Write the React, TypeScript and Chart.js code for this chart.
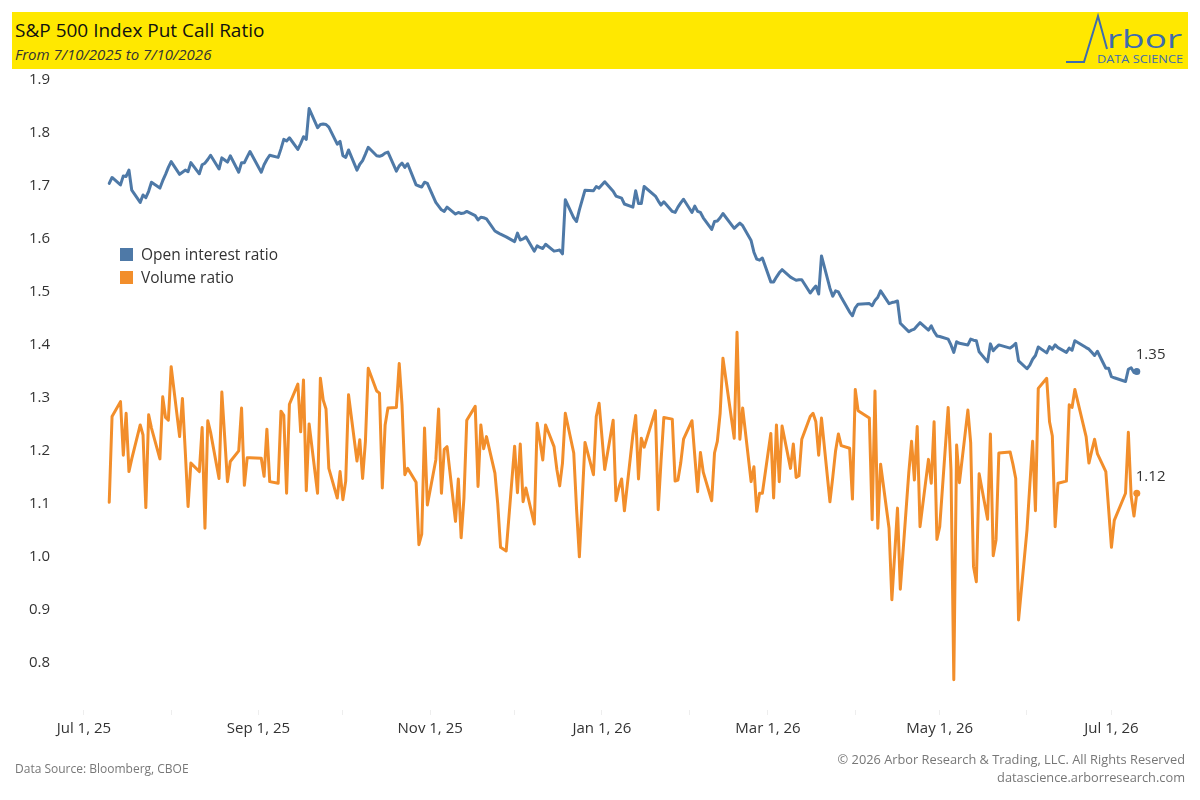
import React, { useEffect, useRef } from "react";
import { Chart, registerables } from "chart.js";

Chart.register(...registerables);

// ---------- data ----------
const AXIS_ORIGIN = "2025-07-01";
const FIRST_DATE = "2025-07-10";
const LAST_DATE = "2026-07-10";
const MARKET_HOLIDAYS = [
  "2025-09-01", "2025-11-27", "2025-12-25", "2026-01-01", "2026-01-19",
  "2026-02-16", "2026-04-03", "2026-05-25", "2026-06-19", "2026-07-03",
];

const OPEN_INTEREST_RATIO = [
  1.705, 1.716,
  1.702, 1.719, 1.718, 1.730, 1.692,
  1.669, 1.683, 1.678, 1.690, 1.707,
  1.696, 1.710, 1.722, 1.735, 1.746,
  1.722, 1.726, 1.730, 1.727, 1.744,
  1.723, 1.740, 1.743, 1.750, 1.758,
  1.732, 1.753, 1.749, 1.745, 1.757,
  1.726, 1.744, 1.744, 1.755, 1.765,
  1.726, 1.740, 1.750, 1.758,
  1.754, 1.770, 1.788, 1.785, 1.791,
  1.769, 1.780, 1.793, 1.788, 1.846,
  1.810, 1.816, 1.817, 1.816, 1.811,
  1.779, 1.784, 1.757, 1.754, 1.768,
  1.730, 1.741, 1.748, 1.760, 1.773,
  1.757, 1.756, 1.758, 1.762, 1.764,
  1.728, 1.738, 1.743, 1.735, 1.742,
  1.702, 1.700, 1.698, 1.707, 1.705,
  1.669, 1.662, 1.655, 1.652, 1.660,
  1.647, 1.650, 1.648, 1.649, 1.652,
  1.644, 1.636, 1.641, 1.640, 1.638,
  1.615, 1.612, 1.609, 1.604,
  1.595, 1.611, 1.598, 1.600, 1.604,
  1.577, 1.587, 1.584, 1.582, 1.590,
  1.577, 1.578, 1.579, 1.572, 1.674,
  1.640, 1.633, 1.655, 1.692,
  1.691, 1.699, 1.696, 1.708,
  1.690, 1.681, 1.679, 1.677, 1.666,
  1.660, 1.691, 1.667, 1.667, 1.699,
  1.681, 1.672, 1.664, 1.670,
  1.652, 1.650, 1.660, 1.668, 1.675,
  1.650, 1.662, 1.652, 1.650, 1.640,
  1.618, 1.633, 1.634, 1.640, 1.648,
  1.620, 1.625, 1.630, 1.625,
  1.597, 1.575, 1.562, 1.560, 1.564,
  1.519, 1.519, 1.528, 1.536, 1.542,
  1.528, 1.525, 1.522, 1.523, 1.523,
  1.498, 1.505, 1.511, 1.496, 1.568,
  1.507, 1.492, 1.502, 1.500, 1.490,
  1.462, 1.455, 1.470, 1.477,
  1.478, 1.474, 1.484, 1.490, 1.502,
  1.478, 1.480, 1.481, 1.483, 1.441,
  1.425, 1.428, 1.430, 1.436, 1.442,
  1.428, 1.436, 1.425, 1.417, 1.416,
  1.411, 1.400, 1.386, 1.406, 1.403,
  1.400, 1.411, 1.409, 1.408, 1.387,
  1.368, 1.402, 1.389, 1.395, 1.400,
  1.394, 1.398, 1.403, 1.370,
  1.355, 1.362, 1.373, 1.380, 1.396,
  1.385, 1.397, 1.392, 1.400, 1.395,
  1.386, 1.394, 1.390, 1.408,
  1.395, 1.392, 1.386, 1.380, 1.388,
  1.356, 1.356, 1.340, 1.338,
  1.331, 1.354, 1.357, 1.348, 1.350,
];

const VOLUME_RATIO = [
  1.103, 1.265,
  1.293, 1.192, 1.271, 1.161, 1.185,
  1.249, 1.230, 1.093, 1.268, 1.243,
  1.185, 1.302, 1.263, 1.258, 1.359,
  1.227, 1.299, 1.200, 1.095, 1.177,
  1.161, 1.244, 1.054, 1.257, 1.235,
  1.148, 1.311, 1.227, 1.142, 1.180,
  1.200, 1.281, 1.135, 1.187, 1.187,
  1.186, 1.152, 1.241, 1.142,
  1.139, 1.275, 1.267, 1.120, 1.288,
  1.326, 1.236, 1.334, 1.125, 1.251,
  1.120, 1.337, 1.296, 1.279, 1.167,
  1.111, 1.161, 1.108, 1.143, 1.306,
  1.181, 1.221, 1.148, 1.218, 1.356,
  1.313, 1.309, 1.130, 1.249, 1.281,
  1.282, 1.365, 1.287, 1.155, 1.167,
  1.141, 1.023, 1.043, 1.243, 1.098,
  1.183, 1.279, 1.120, 1.203, 1.208,
  1.067, 1.147, 1.036, 1.111, 1.258,
  1.284, 1.133, 1.249, 1.204, 1.227,
  1.158, 1.100, 1.018, 1.011,
  1.209, 1.121, 1.213, 1.104, 1.130,
  1.062, 1.252, 1.218, 1.183, 1.249,
  1.208, 1.165, 1.134, 1.177, 1.271,
  1.196, 1.090, 1.000, 1.216,
  1.155, 1.265, 1.290, 1.165,
  1.258, 1.106, 1.130, 1.147, 1.087,
  1.230, 1.267, 1.147, 1.224, 1.207,
  1.276, 1.089, 1.180, 1.263,
  1.260, 1.143, 1.145, 1.177, 1.222,
  1.257, 1.190, 1.123, 1.197, 1.160,
  1.106, 1.196, 1.218, 1.271, 1.375,
  1.224, 1.424, 1.222, 1.281,
  1.142, 1.170, 1.086, 1.120, 1.120,
  1.233, 1.111, 1.249, 1.142, 1.247,
  1.167, 1.213, 1.150, 1.153, 1.222,
  1.265, 1.271, 1.255, 1.192, 1.262,
  1.104, 1.150, 1.200, 1.232, 1.210,
  1.205, 1.109, 1.316, 1.276,
  1.262, 1.070, 1.313, 1.054, 1.175,
  1.054, 0.919, 1.005, 1.092, 0.939,
  1.158, 1.218, 1.145, 1.246, 1.057,
  1.184, 1.139, 1.255, 1.033, 1.057,
  1.282, 1.164, 0.768, 1.211, 1.140,
  1.277, 1.215, 0.982, 0.953, 1.157,
  1.071, 1.232, 1.002, 1.032, 1.196,
  1.198, 1.175, 1.148, 0.881,
  1.051, 1.135, 1.218, 1.087, 1.318,
  1.337, 1.255, 1.228, 1.057, 1.139,
  1.143, 1.287, 1.282, 1.316,
  1.227, 1.177, 1.200, 1.222, 1.195,
  1.161, 1.090, 1.018, 1.069,
  1.120, 1.235, 1.114, 1.077, 1.120,
];

const SERIES_NAMES = ["Open interest ratio", "Volume ratio"];
const SERIES_COLORS = ["#4e79a7", "#f28e2b"];

const MONTH_TICK_DATES = [
  "2025-07-01", "2025-08-01", "2025-09-01", "2025-10-01", "2025-11-01",
  "2025-12-01", "2026-01-01", "2026-02-01", "2026-03-01", "2026-04-01",
  "2026-05-01", "2026-06-01", "2026-07-01",
];
const MONTH_TICK_LABELS = [
  "Jul 1, 25", "", "Sep 1, 25", "", "Nov 1, 25", "", "Jan 1, 26", "",
  "Mar 1, 26", "", "May 1, 26", "", "Jul 1, 26",
];
const Y_TICKS = [0.8, 0.9, 1.0, 1.1, 1.2, 1.3, 1.4, 1.5, 1.6, 1.7, 1.8, 1.9];

// ---------- helpers ----------
const DAY_MS = 86400000;
const toUTC = (s: string) => {
  const [y, m, d] = s.split("-").map(Number);
  return Date.UTC(y, m - 1, d);
};
const dayOffset = (s: string) => Math.round((toUTC(s) - toUTC(AXIS_ORIGIN)) / DAY_MS);

function tradingDays(): number[] {
  const hol = new Set(MARKET_HOLIDAYS.map(dayOffset));
  const out: number[] = [];
  const a = dayOffset(FIRST_DATE);
  const b = dayOffset(LAST_DATE);
  for (let d = a; d <= b; d++) {
    const dow = new Date(toUTC(AXIS_ORIGIN) + d * DAY_MS).getUTCDay();
    if (dow === 0 || dow === 6 || hol.has(d)) continue;
    out.push(d);
  }
  return out;
}

const FONT = '"Open Sans", "DejaVu Sans", sans-serif';

const endLabelPlugin = {
  id: "endLabels",
  afterDatasetsDraw(chart: any) {
    const ctx = chart.ctx;
    chart.data.datasets.forEach((ds: any, i: number) => {
      const meta = chart.getDatasetMeta(i);
      const el = meta.data[meta.data.length - 1];
      const v = ds.data[ds.data.length - 1].y;
      if (!el) return;
      ctx.save();
      ctx.font = `15px ${FONT}`;
      ctx.fillStyle = "#333333";
      ctx.textAlign = "left";
      ctx.textBaseline = "middle";
      ctx.fillText(v.toFixed(2), el.x - 1, el.y - 17);
      ctx.restore();
    });
  },
};

export default function App() {
  const canvasRef = useRef<HTMLCanvasElement | null>(null);

  useEffect(() => {
    if (!canvasRef.current) return;
    const days = tradingDays();
    const n = Math.min(days.length, OPEN_INTEREST_RATIO.length, VOLUME_RATIO.length);
    const seriesValues = [OPEN_INTEREST_RATIO, VOLUME_RATIO];
    const monthTicks = MONTH_TICK_DATES.map(dayOffset);

    const datasets = seriesValues.map((vals, si) => ({
      label: SERIES_NAMES[si],
      data: days.slice(0, n).map((d, i) => ({ x: d, y: vals[i] })),
      borderColor: SERIES_COLORS[si],
      backgroundColor: SERIES_COLORS[si],
      borderWidth: 3,
      tension: 0,
      borderJoinStyle: "round" as const,
      borderCapStyle: "round" as const,
      pointRadius: days.slice(0, n).map((_, i) => (i === n - 1 ? 3.5 : 0)),
      pointHoverRadius: 0,
      pointBorderWidth: 0,
      order: si === 0 ? 1 : 0,
    }));

    const chart = new Chart(canvasRef.current, {
      type: "line",
      data: { datasets },
      plugins: [endLabelPlugin],
      options: {
        responsive: false,
        animation: false,
        devicePixelRatio: 1,
        layout: { padding: { top: 80, right: 10, bottom: 50, left: 0 } },
        plugins: {
          legend: { display: false },
          tooltip: { enabled: false },
        },
        scales: {
          x: {
            type: "linear",
            min: -9.2,
            max: 392.9,
            afterBuildTicks: (s: any) => {
              s.ticks = monthTicks.map((v) => ({ value: v }));
            },
            afterFit: (s: any) => {
              s.height = 40;
            },
            grid: {
              display: true,
              drawOnChartArea: false,
              drawTicks: true,
              tickLength: 5,
              color: "#eeeeee",
            },
            border: { display: false },
            ticks: {
              autoSkip: false,
              maxRotation: 0,
              padding: 5,
              color: "#333333",
              font: { family: FONT, size: 15 },
              callback: (_v: any, i: number) => MONTH_TICK_LABELS[i],
            },
          },
          y: {
            type: "linear",
            min: 0.711,
            max: 1.9,
            afterBuildTicks: (s: any) => {
              s.ticks = Y_TICKS.map((v) => ({ value: v }));
            },
            afterFit: (s: any) => {
              s.width = 58;
            },
            grid: { display: false, drawTicks: false },
            border: { display: false },
            ticks: {
              padding: 8,
              color: "#333333",
              font: { family: FONT, size: 15 },
              callback: (v: any) => Number(v).toFixed(1),
            },
          },
        },
      },
    });
    return () => chart.destroy();
  }, []);

  return (
    <div
      style={{
        position: "fixed",
        left: 0,
        top: 0,
        width: 1200,
        height: 800,
        background: "#ffffff",
        fontFamily: FONT,
        overflow: "hidden",
      }}
    >
      <div
        style={{
          position: "absolute",
          left: 12,
          top: 12,
          width: 1176,
          height: 57,
          background: "#ffe800",
        }}
      />
      <div
        style={{
          position: "absolute",
          left: 15,
          top: 18,
          fontSize: 19,
          lineHeight: "24px",
          color: "#111111",
          whiteSpace: "nowrap",
        }}
      >
        S&amp;P 500 Index Put Call Ratio
      </div>
      <div
        style={{
          position: "absolute",
          left: 15,
          top: 44,
          fontSize: 15,
          lineHeight: "20px",
          fontStyle: "italic",
          color: "#333333",
          whiteSpace: "nowrap",
        }}
      >
        From 7/10/2025 to 7/10/2026
      </div>
      <svg
        width={140}
        height={60}
        viewBox="1050 10 140 60"
        style={{ position: "absolute", left: 1050, top: 10 }}
      >
        <polyline
          points="1066,62 1084,62 1098,16 1107,49"
          fill="none"
          stroke="#3e6cae"
          strokeWidth={2}
          strokeLinejoin="miter"
        />
        <text
          x={1107}
          y={48}
          fontFamily={FONT}
          fontSize={26}
          fill="#3e6cae"
          textLength={75}
          lengthAdjust="spacingAndGlyphs"
        >
          rbor
        </text>
        <text
          x={1097}
          y={63}
          fontFamily={FONT}
          fontSize={11.5}
          fill="#3e6cae"
          textLength={86}
          lengthAdjust="spacingAndGlyphs"
        >
          DATA SCIENCE
        </text>
      </svg>

      <canvas
        ref={canvasRef}
        width={1200}
        height={800}
        style={{ position: "absolute", left: 0, top: 0, width: 1200, height: 800 }}
      />

      {SERIES_NAMES.map((name, i) => (
        <div
          key={name}
          style={{
            position: "absolute",
            left: 120,
            top: 247 + i * 23,
            height: 14,
            display: "flex",
            alignItems: "center",
            whiteSpace: "nowrap",
          }}
        >
          <div style={{ width: 13, height: 13, background: SERIES_COLORS[i], marginRight: 8 }} />
          <span style={{ fontSize: 15.5, color: "#333333", lineHeight: "14px" }}>{name}</span>
        </div>
      ))}

      <div
        style={{
          position: "absolute",
          left: 15,
          top: 760,
          fontSize: 12,
          color: "#777777",
          whiteSpace: "nowrap",
        }}
      >
        Data Source: Bloomberg, CBOE
      </div>
      <div
        style={{
          position: "absolute",
          right: 15,
          top: 750,
          fontSize: 12.8,
          lineHeight: "18px",
          color: "#777777",
          textAlign: "right",
          whiteSpace: "nowrap",
        }}
      >
        <div>© 2026 Arbor Research &amp; Trading, LLC. All Rights Reserved</div>
        <div>datascience.arborresearch.com</div>
      </div>
    </div>
  );
}
